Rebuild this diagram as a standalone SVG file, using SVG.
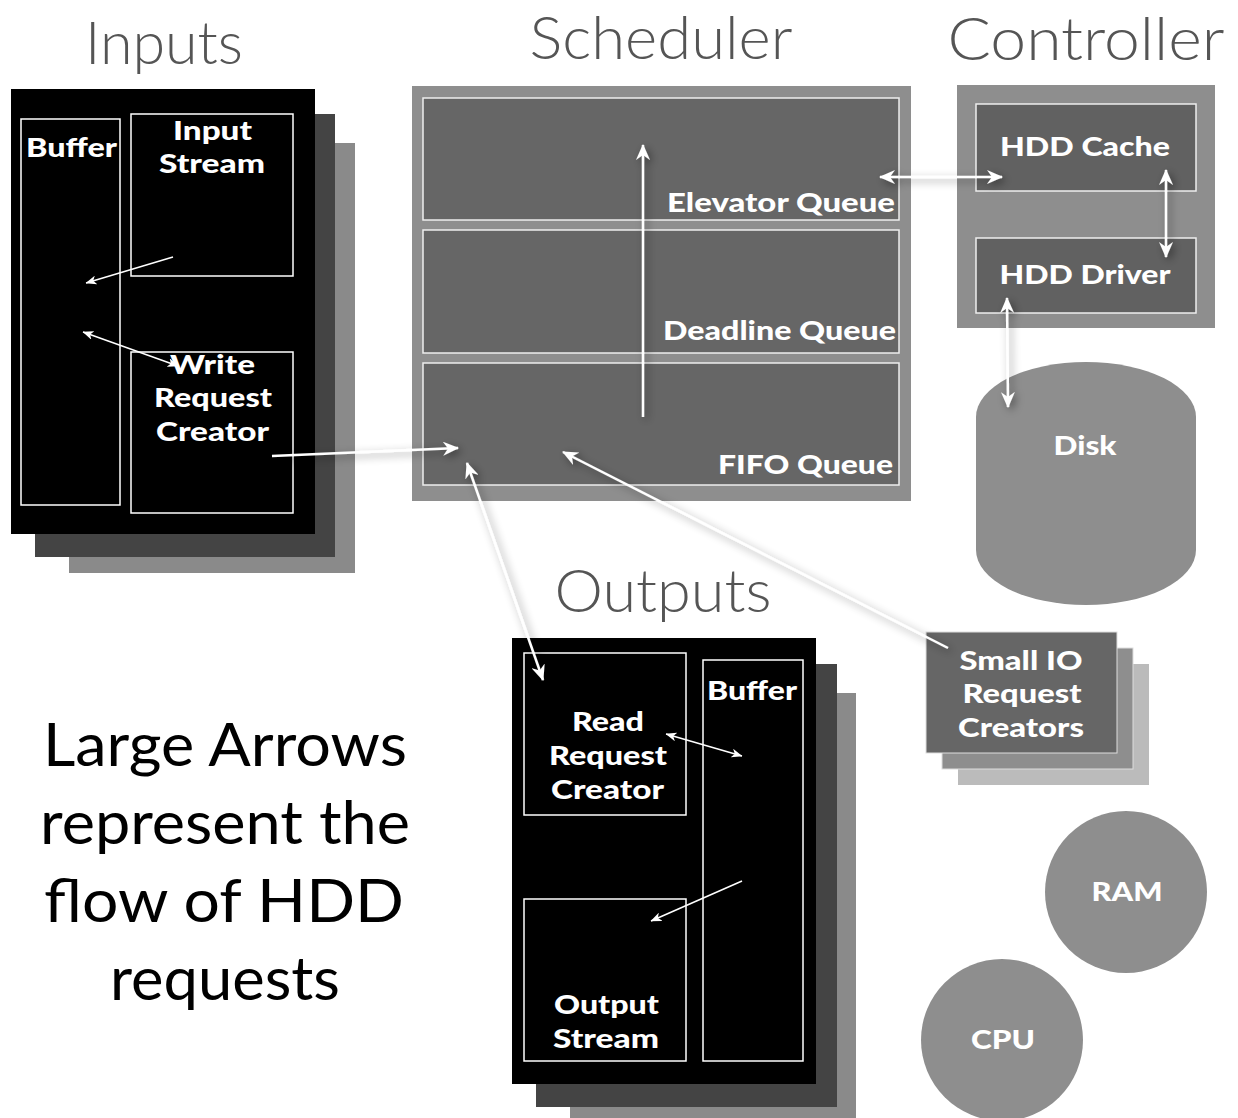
<svg xmlns="http://www.w3.org/2000/svg" width="1238" height="1118" viewBox="0 0 1238 1118">
<defs>
<style>
.title{font-family:Lato,"Open Sans","Liberation Sans",sans-serif;font-weight:300;font-size:60px;fill:#555;text-anchor:middle}
.lbl{font-family:Lato,"Open Sans","Liberation Sans",sans-serif;font-weight:900;font-size:26px;fill:#fff;text-anchor:middle}
.lblr{font-family:Lato,"Open Sans","Liberation Sans",sans-serif;font-weight:900;font-size:26px;fill:#fff;text-anchor:end}
.big{font-family:Lato,"Open Sans","Liberation Sans",sans-serif;font-weight:400;font-size:60px;fill:#000;text-anchor:middle}
.box{fill:none;stroke:#fff;stroke-width:1.5}
.qbox{fill:#666;stroke:#eee;stroke-width:1.5}
.cbox{fill:#616161;stroke:#eee;stroke-width:1.5}
.grey{fill:#8e8e8e}
.big-arrow{fill:none;stroke:#fff;stroke-width:2.5;filter:url(#glow)}
.small-arrow{fill:none;stroke:#fff;stroke-width:1.5}
</style>
<filter id="glow" x="0" y="0" width="1238" height="1118" filterUnits="userSpaceOnUse">
<feDropShadow dx="3" dy="3" stdDeviation="4" flood-color="#000" flood-opacity="0.45"/>
</filter>
<marker id="ah" markerUnits="userSpaceOnUse" markerWidth="16" markerHeight="14" refX="15" refY="7" orient="auto-start-reverse">
<path d="M0,0 L16,7 L0,14 L5,7 Z" fill="#fff"/>
</marker>
<marker id="as" markerUnits="userSpaceOnUse" markerWidth="11" markerHeight="9" refX="10.5" refY="4.5" orient="auto-start-reverse">
<path d="M0,0 L11,4.5 L0,9 L3,4.5 Z" fill="#fff"/>
</marker>
</defs>
<rect width="1238" height="1118" fill="#fff"/>

<text class="title" x="164" y="64" textLength="158" lengthAdjust="spacingAndGlyphs">Inputs</text>
<text class="title" x="661" y="59" textLength="263" lengthAdjust="spacingAndGlyphs">Scheduler</text>
<text class="title" x="1086" y="60" textLength="277" lengthAdjust="spacingAndGlyphs">Controller</text>
<text class="title" x="663" y="612" textLength="217" lengthAdjust="spacingAndGlyphs">Outputs</text>

<g id="inputs">
<rect x="69" y="143" width="286" height="430" fill="#8a8a8a"/>
<rect x="35" y="114" width="300" height="443" fill="#444"/>
<rect x="11" y="89" width="304" height="445" fill="#000"/>
<g id="in-buffer">
<rect class="box" x="21" y="119" width="99" height="386"/>
<text class="lbl" x="71.5" y="157" textLength="91" lengthAdjust="spacingAndGlyphs">Buffer</text>
</g>
<g id="input-stream">
<rect class="box" x="131" y="114" width="162" height="162"/>
<text class="lbl" x="212.5" y="140" textLength="79" lengthAdjust="spacingAndGlyphs">Input</text>
<text class="lbl" x="212" y="173" textLength="106" lengthAdjust="spacingAndGlyphs">Stream</text>
</g>
<g id="write-request-creator">
<rect class="box" x="131" y="352" width="162" height="161"/>
<text class="lbl" x="212.5" y="374" textLength="85" lengthAdjust="spacingAndGlyphs">Write</text>
<text class="lbl" x="213" y="407" textLength="118" lengthAdjust="spacingAndGlyphs">Request</text>
<text class="lbl" x="212.5" y="441" textLength="113" lengthAdjust="spacingAndGlyphs">Creator</text>
</g>
</g>

<g id="scheduler">
<rect class="grey" x="412" y="86" width="499" height="415"/>
<g id="elevator-queue">
<rect class="qbox" x="423" y="98" width="476" height="122"/>
<text class="lblr" x="895" y="212" textLength="228" lengthAdjust="spacingAndGlyphs">Elevator Queue</text>
</g>
<g id="deadline-queue">
<rect class="qbox" x="423" y="230" width="476" height="123"/>
<text class="lblr" x="896" y="340" textLength="233" lengthAdjust="spacingAndGlyphs">Deadline Queue</text>
</g>
<g id="fifo-queue">
<rect class="qbox" x="423" y="363" width="476" height="122"/>
<text class="lblr" x="893" y="474" textLength="175" lengthAdjust="spacingAndGlyphs">FIFO Queue</text>
</g>
</g>

<g id="controller">
<rect class="grey" x="957" y="85" width="258" height="243"/>
<g id="hdd-cache">
<rect class="cbox" x="976" y="104" width="220" height="87"/>
<text class="lbl" x="1085" y="156" textLength="170" lengthAdjust="spacingAndGlyphs">HDD Cache</text>
</g>
<g id="hdd-driver">
<rect class="cbox" x="976" y="238" width="220" height="75"/>
<text class="lbl" x="1085" y="284" textLength="171" lengthAdjust="spacingAndGlyphs">HDD Driver</text>
</g>
</g>

<g id="disk">
<path class="grey" d="M976,417 A110,55 0 0 1 1196,417 V550 A110,55 0 0 1 976,550 Z"/>
<text class="lbl" x="1085" y="455" textLength="63" lengthAdjust="spacingAndGlyphs">Disk</text>
</g>

<g id="small-io">
<rect x="958" y="664" width="191" height="121" fill="#bbb"/>
<rect x="942" y="648" width="191" height="121" fill="#8e8e8e" stroke="#ddd" stroke-width="1"/>
<rect x="926" y="632" width="191" height="121" fill="#666" stroke="#ddd" stroke-width="1"/>
<text class="lbl" x="1021" y="670" textLength="123" lengthAdjust="spacingAndGlyphs">Small IO</text>
<text class="lbl" x="1022" y="703" textLength="119" lengthAdjust="spacingAndGlyphs">Request</text>
<text class="lbl" x="1021" y="737" textLength="126" lengthAdjust="spacingAndGlyphs">Creators</text>
</g>

<g id="ram">
<circle class="grey" cx="1126" cy="892" r="81"/>
<text class="lbl" x="1127" y="901" textLength="71" lengthAdjust="spacingAndGlyphs">RAM</text>
</g>
<g id="cpu">
<circle class="grey" cx="1002" cy="1040" r="81"/>
<text class="lbl" x="1003" y="1049" textLength="64" lengthAdjust="spacingAndGlyphs">CPU</text>
</g>

<g id="outputs">
<rect x="570" y="693" width="286" height="430" fill="#8a8a8a"/>
<rect x="536" y="664" width="301" height="443" fill="#444"/>
<rect x="512" y="638" width="304" height="446" fill="#000"/>
<g id="read-request-creator">
<rect class="box" x="524" y="653" width="162" height="162"/>
<text class="lbl" x="608" y="731" textLength="72" lengthAdjust="spacingAndGlyphs">Read</text>
<text class="lbl" x="608" y="765" textLength="118" lengthAdjust="spacingAndGlyphs">Request</text>
<text class="lbl" x="607.5" y="799" textLength="113" lengthAdjust="spacingAndGlyphs">Creator</text>
</g>
<g id="out-buffer">
<rect class="box" x="703" y="660" width="100" height="401"/>
<text class="lbl" x="752" y="700" textLength="90" lengthAdjust="spacingAndGlyphs">Buffer</text>
</g>
<g id="output-stream">
<rect class="box" x="524" y="899" width="162" height="162"/>
<text class="lbl" x="606.5" y="1014" textLength="105" lengthAdjust="spacingAndGlyphs">Output</text>
<text class="lbl" x="606" y="1048" textLength="106" lengthAdjust="spacingAndGlyphs">Stream</text>
</g>
</g>

<g id="note">
<text class="big" x="225" y="766" textLength="364" lengthAdjust="spacingAndGlyphs">Large Arrows</text>
<text class="big" x="225" y="844" textLength="370" lengthAdjust="spacingAndGlyphs">represent the</text>
<text class="big" x="224" y="922" textLength="360" lengthAdjust="spacingAndGlyphs">flow of HDD</text>
<text class="big" x="225" y="1000" textLength="230" lengthAdjust="spacingAndGlyphs">requests</text>
</g>

<g id="connectors">
<path class="big-arrow" d="M272,456 L458,448" marker-end="url(#ah)"/>
<path class="big-arrow" d="M467,463 L543,680" marker-start="url(#ah)" marker-end="url(#ah)"/>
<path class="big-arrow" d="M948,648 L563,452" marker-end="url(#ah)"/>
<path class="big-arrow" d="M643,417 L643,145" marker-end="url(#ah)"/>
<path class="big-arrow" d="M880,177 L1002,177" marker-start="url(#ah)" marker-end="url(#ah)"/>
<path class="big-arrow" d="M1166,170 L1166,257" marker-start="url(#ah)" marker-end="url(#ah)"/>
<path class="big-arrow" d="M1007,298 L1008,407" marker-start="url(#ah)" marker-end="url(#ah)"/>
<path class="small-arrow" d="M173,257 L86,283" marker-end="url(#as)"/>
<path class="small-arrow" d="M83,332 L178,366" marker-start="url(#as)" marker-end="url(#as)"/>
<path class="small-arrow" d="M666,734 L742,756" marker-start="url(#as)" marker-end="url(#as)"/>
<path class="small-arrow" d="M742,881 L651,921" marker-end="url(#as)"/>
</g>
</svg>
